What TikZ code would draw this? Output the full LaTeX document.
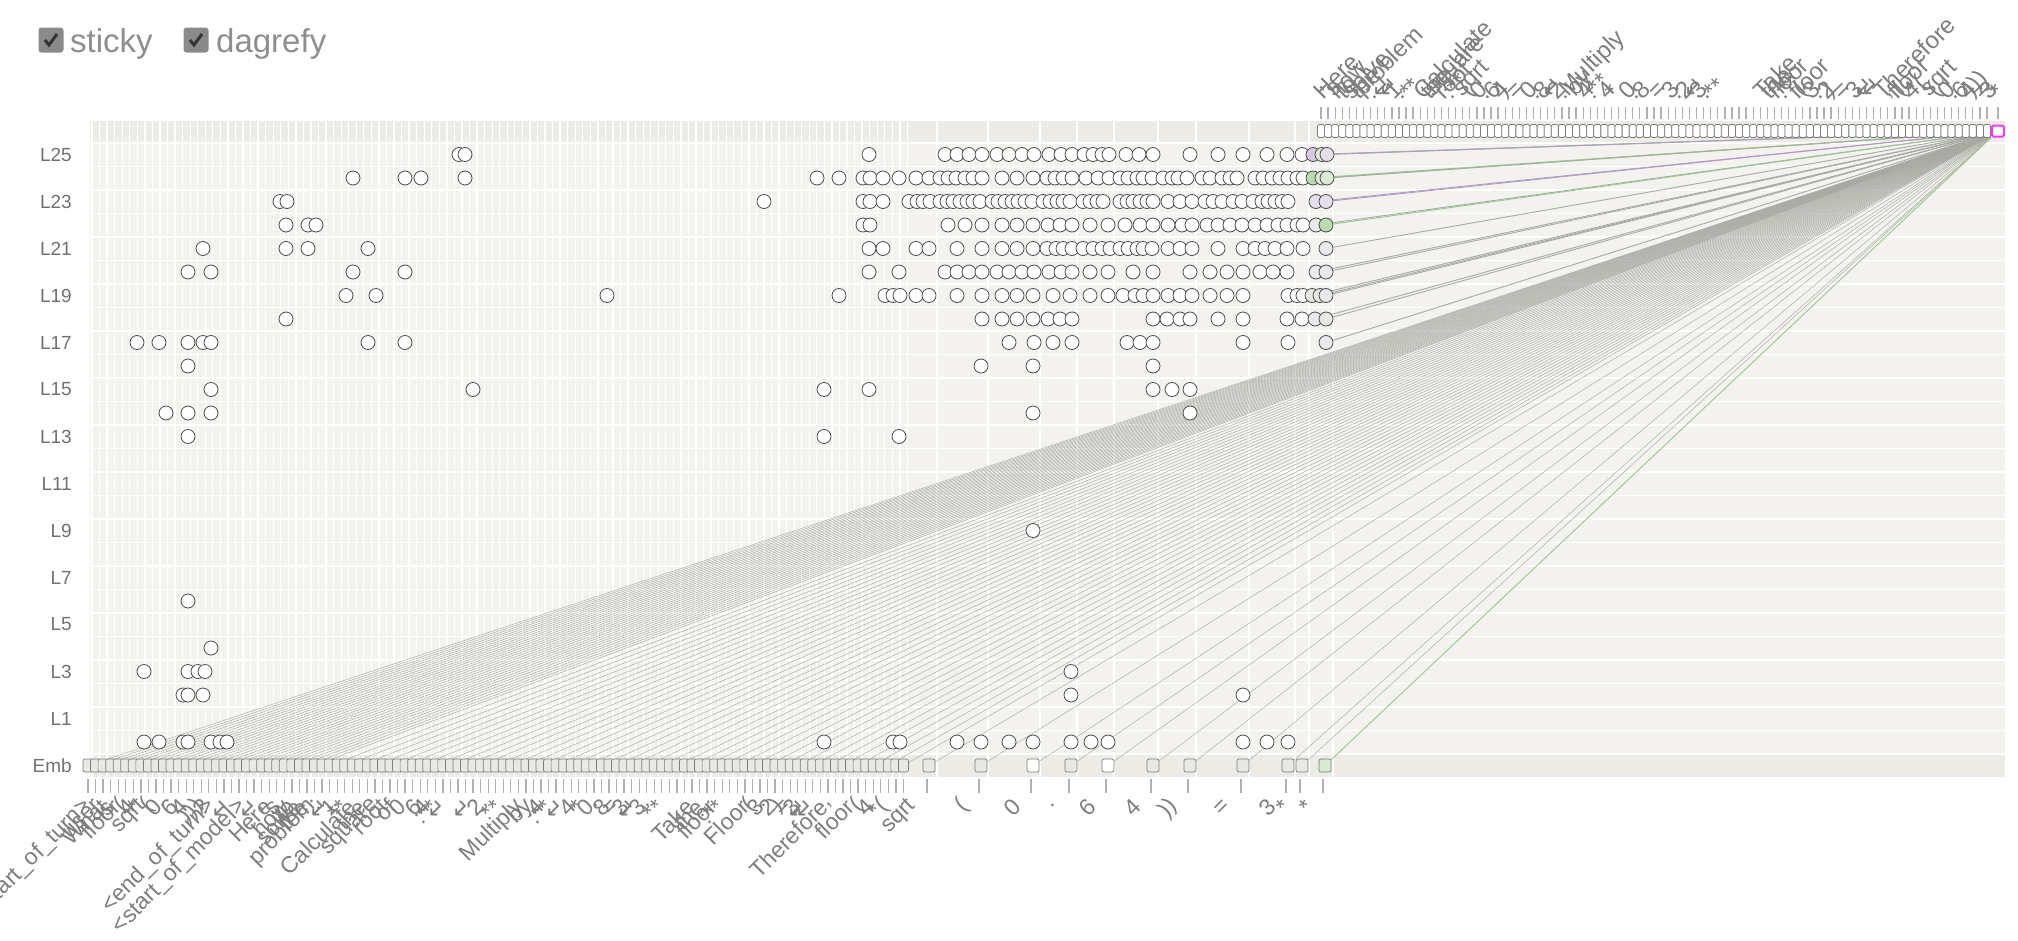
\documentclass[tikz,border=0pt]{standalone}
\usepackage{fontspec}
\setmainfont{Liberation Sans}
\newfontfamily\arrowfont{DejaVu Sans}
\usetikzlibrary{positioning}

\definecolor{chartbg}{HTML}{F3F2EE}
\definecolor{stripbg}{HTML}{ECEBE6}
\definecolor{featline}{HTML}{4A4A4A}
\definecolor{boxfill}{HTML}{E8E8E4}
\definecolor{boxline}{HTML}{7C7C7C}
\definecolor{edgegray}{HTML}{A9A9A3}
\definecolor{tickgray}{HTML}{B0B0AC}
\definecolor{labelgray}{HTML}{707070}
\definecolor{tokgray}{HTML}{7E7E7E}
\definecolor{uigray}{HTML}{8E8E8E}
\definecolor{chkfill}{HTML}{8A8A8A}
\definecolor{chkmark}{HTML}{333333}
\definecolor{fpurple}{HTML}{D8C7E3}
\definecolor{fgreen}{HTML}{B8DCAE}
\definecolor{flgreen}{HTML}{DCEBD6}
\definecolor{flpurple}{HTML}{E7DEEC}
\definecolor{fgrey}{HTML}{E9E8EC}
\definecolor{fgreyg}{HTML}{E5E9E2}
\definecolor{epurple}{HTML}{B29AC4}
\definecolor{egreen}{HTML}{98C98C}
\definecolor{tgtpink}{HTML}{FF33FF}
\definecolor{embgreen}{HTML}{D6EBD0}

\pgfdeclarelayer{bg}
\pgfdeclarelayer{edges}
\pgfsetlayers{bg,edges,main}

\newcommand{\nlmark}{{\arrowfont ↵}}

\begin{document}
\begin{tikzpicture}[x=1pt, y=-1pt,
    feat/.style={circle, draw=featline, line width=0.8pt, fill=white, minimum size=14pt, inner sep=0pt},
    embbox/.style={rectangle, rounded corners=2pt, draw=boxline, fill=boxfill, line width=0.7pt, minimum width=10pt, minimum height=13pt, inner sep=0pt},
    outbox/.style={rectangle, rounded corners=1.5pt, draw=boxline, fill=white, line width=0.7pt, minimum width=7pt, minimum height=13pt, inner sep=0pt},
    link/.style={draw=edgegray, line width=0.45pt},
    layerlabel/.style={anchor=east, text=labelgray, inner sep=0pt, font=\fontsize{19}{19}\selectfont},
    botlabel/.style={anchor=east, rotate=45, text=tokgray, inner sep=0pt, font=\fontsize{23}{23}\selectfont},
    toplabel/.style={anchor=south west, rotate=45, text=tokgray, inner sep=0pt, font=\fontsize{24}{24}\selectfont},
    tickmark/.style={draw=tickgray, line width=1.3pt},
    chkbox/.style={rectangle, rounded corners=3pt, fill=chkfill, minimum size=25pt, inner sep=0pt},
    uitext/.style={text=uigray, inner sep=0pt, font=\fontsize{33}{33}\selectfont}
]
\useasboundingbox (0,0) rectangle (2018,940);

% toggles
\node[chkbox] (chka) at (51,40) {};
\draw[chkmark, line width=3pt] ([shift={(-6,0)}]chka.center) -- ++(4,5) -- ++(8,-11);
\node[uitext, anchor=base west] (sticky) at (70,52) {sticky};
\node[chkbox] (chkb) at (196,40) {};
\draw[chkmark, line width=3pt] ([shift={(-6,0)}]chkb.center) -- ++(4,5) -- ++(8,-11);
\node[uitext, anchor=base west] (dagrefy) at (216,52) {dagrefy};

% grid
\begin{pgfonlayer}{bg}
\fill[chartbg] (90,121) rectangle (2005,777);
\fill[stripbg] (90,121) rectangle (2005,143);
\fill[stripbg] (90,754) rectangle (2005,777);
\foreach \m in {0,...,26}
  \draw[white, line width=1.5pt] (90,{754-23.5*\m}) -- (2005,{754-23.5*\m});
\foreach \i in {0,...,108}
  \draw[white, line width=1.3pt] ({92+7.55*\i},121) -- ({92+7.55*\i},777);
\foreach \x in {937,988,1040,1077,1114,1158,1196,1249,1295,1309,1333}
  \draw[white, line width=1.5pt] (\x,121) -- (\x,777);
\end{pgfonlayer}

% layer labels
\foreach \k in {1,3,...,25}
  \node[layerlabel] (lab\k) at (72,{742-23.5*\k}) {L\k};
\node[layerlabel] (labemb) at (72,765.5) {Emb};

% embedding row
\foreach \i in {0,...,108}
  \node[embbox] (e\i) at ({88+7.55*\i},765.5) {};
\foreach \x/\f [count=\j from 109] in {929/boxfill,981/boxfill,1033/white,1071/boxfill,1108/white,1153/boxfill,1190/boxfill,1243/boxfill,1288/boxfill,1302/boxfill}
  \node[embbox, minimum width=12pt, fill=\f] (e\j) at (\x,765.5) {};
\node[embbox, minimum width=12pt, fill=embgreen] (e119) at (1325,765.5) {};
\foreach \i in {0,...,108}
  \draw[tickmark] ({88+7.55*\i},779) -- ({88+7.55*\i},793);
\foreach \x in {929,981,1033,1071,1108,1153,1190,1243,1288,1302,1325}
  \draw[tickmark] (\x-2,779) -- (\x-2,793);

% output row
\foreach \i in {0,...,94}
  \node[outbox] (o\i) at ({1321+7.085*\i},131) {};
\node[outbox, draw=tgtpink, line width=2pt, minimum width=12pt, minimum height=11pt] (target) at (1998,131) {};
\foreach \i in {0,...,94}
  \draw[tickmark] ({1321+7.085*\i},107) -- ({1321+7.085*\i},119);
\draw[tickmark] (1998,107) -- (1998,119);

% features
\foreach \l/\xs in {
  25/{459,465,869,945,957,969,982,997,1009,1022,1034,1049,1061,1072,1084,1093,1102,1109,1126,1139,1153,1190,1218,1243,1267,1287,1302},
  24/{353,405,421,465,817,839,863,870,883,899,916,929,940,948,956,965,973,982,1002,1017,1033,1047,1055,1063,1072,1086,1098,1109,1120,1128,1137,1143,1152,1163,1172,1178,1187,1202,1210,1222,1230,1237,1255,1263,1272,1280,1288,1297,1303},
  23/{280,287,764,863,870,883,909,917,923,930,940,947,953,960,967,973,980,992,998,1005,1012,1018,1025,1032,1043,1050,1057,1063,1070,1083,1090,1097,1103,1120,1127,1133,1140,1147,1153,1168,1180,1192,1205,1213,1222,1233,1242,1253,1262,1268,1275,1282,1288},
  22/{286,308,316,863,870,948,965,982,1002,1017,1033,1048,1060,1072,1090,1108,1125,1140,1153,1168,1182,1192,1207,1218,1230,1242,1255,1267,1278,1287,1297,1303},
  21/{203,286,308,368,869,883,916,929,957,982,1002,1017,1033,1047,1056,1063,1072,1083,1093,1102,1110,1120,1128,1137,1143,1152,1168,1180,1192,1218,1243,1255,1265,1275,1287,1303},
  20/{188,211,353,405,869,899,945,957,969,982,997,1009,1022,1034,1049,1061,1072,1090,1108,1133,1153,1190,1210,1227,1243,1260,1273,1287},
  19/{346,376,607,839,885,893,900,916,929,957,982,1002,1017,1033,1053,1070,1090,1108,1123,1135,1143,1153,1168,1180,1192,1210,1227,1243,1288,1297,1303},
  18/{286,982,1002,1017,1033,1048,1060,1072,1153,1167,1180,1190,1218,1243,1287,1302},
  17/{137,159,188,203,211,368,405,1009,1034,1053,1072,1127,1140,1153,1243,1288},
  16/{188,981,1033,1153},
  15/{211,473,824,869,1153,1172,1190},
  14/{166,188,211,1033,1190},
  13/{188,824,899},
  9/{1033},
  6/{188},
  4/{211},
  3/{144,188,198,205,1071},
  2/{183,188,203,1071,1243},
  0/{144,159,183,188,211,220,227,824,893,900,957,981,1009,1033,1071,1091,1108,1243,1267,1288}}
  \foreach \x [count=\j] in \xs
    \node[feat] (n\l-\j) at (\x,{742-23.5*\l}) {};

% last-position features feeding the target
\foreach \l/\x/\f/\e [count=\j] in {
  25/1313/fpurple/epurple, 25/1322/flgreen/egreen, 25/1327/flpurple/epurple,
  24/1313/fgreen/egreen, 24/1322/flgreen/egreen, 24/1327/flgreen/edgegray,
  23/1316/flpurple/epurple, 23/1326/flpurple/epurple,
  22/1316/fgrey/edgegray, 22/1326/fgreen/egreen,
  21/1326/fgrey/edgegray,
  20/1316/fgrey/edgegray, 20/1326/fgrey/edgegray,
  19/1312/fgreyg/edgegray, 19/1320/fgreyg/edgegray, 19/1326/fgrey/edgegray,
  18/1315/fgrey/edgegray, 18/1326/fgreyg/edgegray,
  17/1326/fgrey/edgegray}
{
  \node[feat, fill=\f] (r\j) at (\x,{742-23.5*\l}) {};
  \begin{pgfonlayer}{edges}
    \draw[link, draw=\e, line width=0.9pt] (r\j) -- (target);
  \end{pgfonlayer}
}

% edges from the embeddings
\begin{pgfonlayer}{edges}
\foreach \i in {0,...,30,32,34,...,108,109,110,...,118}
  \draw[link] (e\i) -- (target);
\draw[link, draw=egreen, line width=0.9pt] (e119) -- (target);
\end{pgfonlayer}

% input tokens
\foreach \x/\t [count=\j] in {
  88/{<start\_of\_turn>}, 98/{user}, 104/{What}, 110/{is}, 116/{floor}, 124/{(}, 131/{4}, 137/{*},
  143/{sqrt}, 150/{(}, 158/{0}, 165/{.}, 174/{6}, 184/{4}, 200/{)))}, 206/{?},
  212/{<end\_of\_turn>}, 228/{\nlmark}, 243/{<start\_of\_model>}, 256/{\nlmark},
  268/{Here}, 276/{'s}, 286/{how}, 292/{to}, 298/{solve}, 305/{the}, 312/{problem}, 318/{:},
  326/{\nlmark}, 334/{1}, 338/{.}, 344/{**}, 352/{Calculate}, 362/{the}, 376/{square}, 384/{root},
  392/{of}, 402/{0}, 410/{.}, 418/{6}, 426/{4}, 434/{:**}, 444/{\nlmark}, 469/{\nlmark},
  480/{2}, 488/{.}, 498/{**}, 520/{Multiply}, 530/{by}, 540/{4}, 548/{:**}, 562/{\nlmark},
  572/{4}, 580/{*}, 590/{0}, 598/{.}, 606/{8}, 616/{=}, 625/{3}, 634/{\nlmark}, 642/{3},
  650/{.}, 660/{**}, 690/{Take}, 700/{the}, 712/{floor}, 720/{:**}, 745/{Floor}, 752/{(},
  760/{3}, 766/{.}, 772/{2}, 780/{)}, 788/{=}, 796/{3}, 804/{\nlmark}, 812/{\nlmark},
  824/{Therefore}, 832/{,}, 850/{floor}, 860/{(}, 870/{4}, 885/{*(},
  913/{sqrt}, 965/{(}, 1017/{0}, 1055/{.}, 1092/{6}, 1137/{4}, 1174/{))}, 1227/{=},
  1272/{3}, 1286/{*}, 1309/{*}}
  \node[botlabel] (b\j) at (\x,803) {\t};

% output tokens
\foreach \i/\t in {
  0/{Here}, 1/{'s}, 2/{how}, 3/{to}, 4/{solve}, 5/{the}, 6/{problem}, 7/{:}, 8/{\nlmark}, 9/{\nlmark},
  10/{1}, 11/{.}, 12/{**}, 14/{Calculate}, 15/{the}, 16/{square}, 17/{root}, 18/{:**}, 20/{sqrt},
  21/{(}, 22/{0}, 23/{.}, 24/{6}, 25/{4}, 26/{)}, 27/{=}, 29/{0}, 30/{.}, 31/{8}, 32/{\nlmark},
  33/{2}, 34/{.}, 35/{Multiply}, 36/{by}, 37/{4}, 38/{:**}, 40/{4}, 41/{*}, 43/{0}, 44/{.},
  45/{8}, 47/{=}, 49/{3}, 50/{.}, 51/{2}, 52/{\nlmark}, 53/{3}, 54/{.}, 55/{**}, 62/{Take},
  63/{the}, 64/{floor}, 65/{:**}, 67/{floor}, 68/{(}, 69/{3}, 70/{.}, 71/{2}, 72/{)}, 73/{=},
  75/{3}, 76/{\nlmark}, 77/{\nlmark}, 79/{Therefore}, 80/{,}, 81/{floor}, 82/{(}, 83/{4},
  84/{*(}, 86/{sqrt}, 87/{(}, 88/{0}, 89/{.}, 90/{6}, 91/{4}, 92/{)))}, 93/{=}, 94/{3}}
  \node[toplabel] (t\i) at ({1321+7.085*\i+3},101) {\t};
\node[toplabel] (ttarget) at (1999,101) {*};
\end{tikzpicture}
\end{document}
